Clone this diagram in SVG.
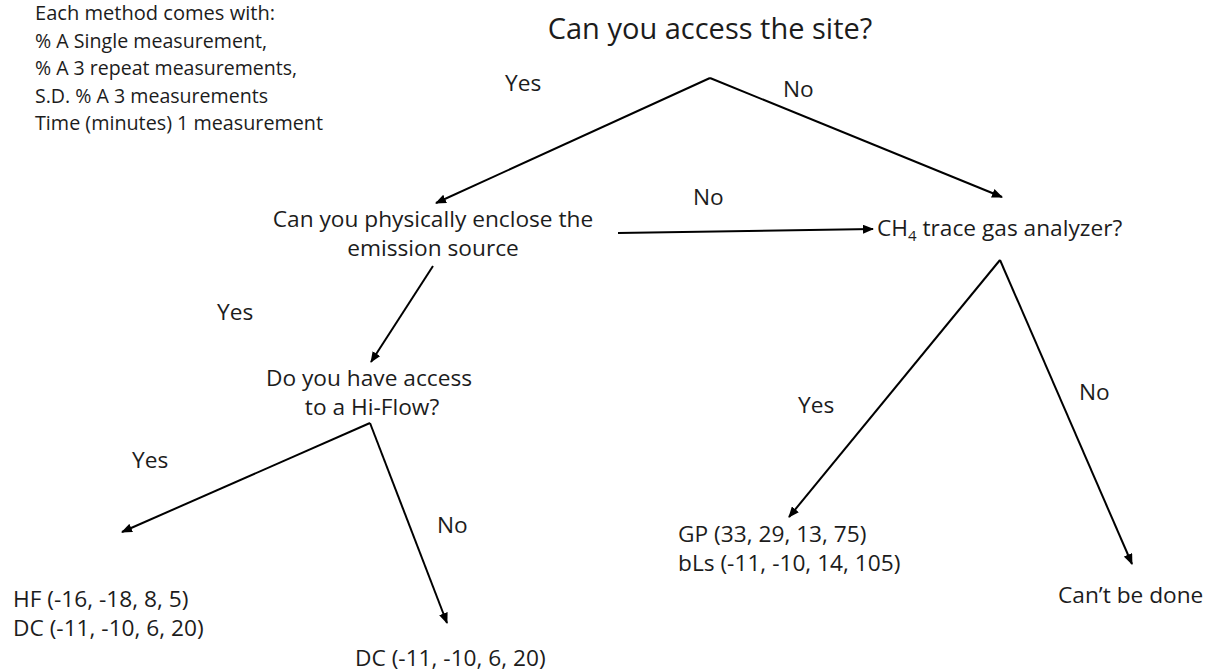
<svg xmlns="http://www.w3.org/2000/svg" width="1208" height="671" viewBox="0 0 1208 671">
  <defs>
    <marker id="arrow" markerUnits="userSpaceOnUse" markerWidth="11" markerHeight="9" refX="10" refY="4.5" orient="auto">
      <path d="M0,0 L11,4.5 L0,9 z" fill="#000"/>
    </marker>
    <style>
      text { font-family: "Open Sans", "Noto Sans", "Liberation Sans", sans-serif; fill: #1c1c1c; }
      .note { font-size: 20px; }
      .body { font-size: 22.7px; }
      .title { font-size: 29px; }
      .mid { text-anchor: middle; }
      .conn { stroke: #000; stroke-width: 2; fill: none; marker-end: url(#arrow); }
    </style>
  </defs>
  <rect x="0" y="0" width="1208" height="671" fill="#fff"/>

  <g id="note" class="note">
    <text x="35" y="20" textLength="240" lengthAdjust="spacingAndGlyphs">Each method comes with:</text>
    <text x="35" y="48" textLength="232" lengthAdjust="spacingAndGlyphs">% A Single measurement,</text>
    <text x="35" y="75" textLength="262" lengthAdjust="spacingAndGlyphs">% A 3 repeat measurements,</text>
    <text x="35" y="103" textLength="233" lengthAdjust="spacingAndGlyphs">S.D. % A 3 measurements</text>
    <text x="35" y="130" textLength="288" lengthAdjust="spacingAndGlyphs">Time (minutes) 1 measurement</text>
  </g>

  <g id="n-site">
    <text class="title mid" x="710" y="39">Can you access the site?</text>
  </g>

  <g id="n-enclose" class="body">
    <text class="mid" x="433" y="227">Can you physically enclose the</text>
    <text class="mid" x="433" y="256">emission source</text>
  </g>

  <g id="n-ch4" class="body">
    <text x="877" y="236">CH<tspan font-size="15" dy="5">4</tspan><tspan dy="-5"> trace gas analyzer?</tspan></text>
  </g>

  <g id="n-hiflow" class="body">
    <text class="mid" x="369" y="386">Do you have access</text>
    <text class="mid" x="372" y="415">to a Hi-Flow?</text>
  </g>

  <g id="n-hf-dc" class="body">
    <text x="13" y="607">HF (-16, -18, 8, 5)</text>
    <text x="13" y="636">DC (-11, -10, 6, 20)</text>
  </g>

  <g id="n-dc" class="body">
    <text x="355" y="666">DC (-11, -10, 6, 20)</text>
  </g>

  <g id="n-gp-bls" class="body">
    <text x="678" y="542">GP (33, 29, 13, 75)</text>
    <text x="678" y="571">bLs (-11, -10, 14, 105)</text>
  </g>

  <g id="n-cant" class="body">
    <text x="1058" y="603">Can’t be done</text>
  </g>

  <g id="connectors">
    <path class="conn" d="M710,78 L436,203"/>
    <path class="conn" d="M710,78 L1002,197"/>
    <path class="conn" d="M433,266 L371,362"/>
    <path class="conn" d="M618,233 L873,229"/>
    <path class="conn" d="M370,423 L122,532"/>
    <path class="conn" d="M370,423 L447,623"/>
    <path class="conn" d="M1000,260 L789,517"/>
    <path class="conn" d="M1000,260 L1132,564"/>
  </g>

  <g id="edge-labels" class="body">
    <text x="505" y="91">Yes</text>
    <text x="783" y="97">No</text>
    <text x="693" y="205">No</text>
    <text x="217" y="320">Yes</text>
    <text x="132" y="468">Yes</text>
    <text x="437" y="533">No</text>
    <text x="798" y="413">Yes</text>
    <text x="1079" y="400">No</text>
  </g>
</svg>
